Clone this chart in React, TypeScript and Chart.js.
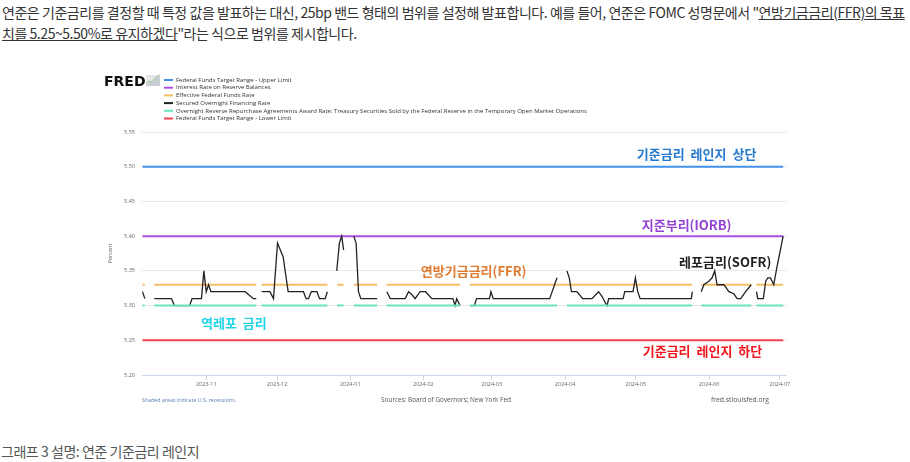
import React, { useEffect, useRef } from 'react';
import { Chart, registerables } from 'chart.js';

Chart.register(...registerables);

// ---------------- data ----------------
// x values are days counted from 2023-10-01 (day 0)
const monthTickDays = [31, 61, 92, 123, 152, 183, 213, 244, 274];
const monthTickLabels = ['2023-11', '2023-12', '2024-01', '2024-02', '2024-03', '2024-04', '2024-05', '2024-06', '2024-07'];

const xMinDay = 3.8;
const xMaxDay = 276.6;
const yMin = 5.2;
const yMax = 5.55;
const yStep = 0.05;

const rangeDays = [4, 275.4];
const upperLimitValues = [5.5, 5.5];
const iorbValues = [5.4, 5.4];
const lowerLimitValues = [5.25, 5.25];

const ffrRate = 5.33;
const ffrStartDays = [4, 9, 54.5, 86.5, 93.6, 107.5, 142.7, 240.7, 264.1];
const ffrEndDays = [5, 52.2, 82.3, 89.2, 103.4, 138.5, 236.9, 261.9, 275.4];

const rrpRate = 5.3;
const rrpStartDays = [4, 9, 54.5, 86.5, 93.6, 107.5, 142.7, 183.8, 240.7, 264.1];
const rrpEndDays = [5, 52.2, 82.3, 89.2, 103.4, 138.5, 179.6, 236.9, 261.9, 275.4];

const sofrDays = [
  4, 5, 7,
  9, 16.3, 17.5, 24, 25, 29, 30, 31, 32, 33, 47.5, 51, 52.2, 53.5,
  54.5, 58, 59.5, 61.2, 63.6, 65.7, 72.2, 73.3, 74.3, 75.5, 77.9, 79, 81.4, 82.3, 84,
  86.3, 87.4, 88.4, 89.2, 91,
  93.5, 94.5, 95.5, 96.5, 103.4, 105,
  107.5, 109, 115.3, 116.7, 117.8, 119.5, 121.6, 123.9, 126.6, 135.5, 136.4, 137.1, 138.5, 140,
  142.7, 144.6, 145.5, 151, 151.6, 152.6, 176.5, 179.6, 181.5,
  183.8, 184.8, 185.7, 188, 190.5, 194.4, 197.2, 198.7, 200.2, 200.8, 201.5, 207.6, 208.3, 211.8, 212.8, 213.8, 214.8, 236.5, 236.9, 239,
  240.7, 241.8, 243.9, 245.3, 246.4, 247.4, 250.3, 252.4, 254.5, 255.9, 257.4, 259.5, 261.9, 263,
  264.1, 264.6, 267, 268, 268.9, 270, 270.7, 271.4, 272.8, 275.4,
];
const sofrValues = [
  5.32, 5.31, null,
  5.31, 5.31, 5.30, 5.30, 5.31, 5.31, 5.35, 5.32, 5.33, 5.32, 5.32, 5.31, 5.31, null,
  5.32, 5.32, 5.31, 5.39, 5.37, 5.32, 5.32, 5.31, 5.31, 5.32, 5.32, 5.31, 5.31, 5.32, null,
  5.35, 5.39, 5.40, 5.38, null,
  5.40, 5.39, 5.32, 5.31, 5.31, null,
  5.32, 5.31, 5.31, 5.32, 5.317, 5.31, 5.32, 5.32, 5.31, 5.31, 5.30, 5.31, 5.30, null,
  5.30, 5.30, 5.31, 5.31, 5.32, 5.31, 5.31, 5.34, null,
  5.35, 5.34, 5.32, 5.32, 5.31, 5.31, 5.32, 5.313, 5.303, 5.30, 5.31, 5.31, 5.32, 5.32, 5.34, 5.32, 5.31, 5.31, 5.32, null,
  5.32, 5.33, 5.335, 5.34, 5.35, 5.33, 5.33, 5.32, 5.317, 5.31, 5.31, 5.32, 5.33, null,
  5.32, 5.31, 5.31, 5.335, 5.34, 5.34, 5.335, 5.33, 5.356, 5.40,
];

const legendLabels = [
  'Federal Funds Target Range - Upper Limit',
  'Interest Rate on Reserve Balances',
  'Effective Federal Funds Rate',
  'Secured Overnight Financing Rate',
  'Overnight Reverse Repurchase Agreements Award Rate: Treasury Securities Sold by the Federal Reserve in the Temporary Open Market Operations',
  'Federal Funds Target Range - Lower Limit',
];
const seriesColors = ['#4390e8', '#ae4fe4', '#f5bd66', '#222222', '#69e2bf', '#f4434f'];

const annotationTexts = ['기준금리 레인지 상단', '지준부리(IORB)', '레포금리(SOFR)', '연방기금금리(FFR)', '역레포 금리', '기준금리 레인지 하단'];
const annotationDays = [213.4, 215.5, 231.3, 121.9, 28.8, 215.9];
const annotationValues = [5.518, 5.416, 5.363, 5.349, 5.275, 5.234];
const annotationColors = ['#2479cf', '#9442d1', '#1e1e1e', '#e07b2f', '#1fd3e8', '#f3151b'];

const footerLeft = 'Shaded areas indicate U.S. recessions.';
const footerMid = 'Sources: Board of Governors; New York Fed';
const footerRight = 'fred.stlouisfed.org';

// ---------------- helpers ----------------
const toPoints = (days: number[], vals: (number | null)[]) => days.map((d, i) => ({ x: d, y: vals[i] }));
const segmentPoints = (starts: number[], ends: number[], rate: number) => {
  const out: { x: number; y: number | null }[] = [];
  starts.forEach((s, i) => {
    if (i > 0) out.push({ x: (ends[i - 1] + s) / 2, y: null });
    out.push({ x: s, y: rate }, { x: ends[i], y: rate });
  });
  return out;
};

const decorPlugin = {
  id: 'fredDecor',
  afterDatasetsDraw(chart: any) {
    const { ctx, scales } = chart;
    ctx.save();
    ctx.textBaseline = 'middle';
    ctx.textAlign = 'left';
    ctx.font = 'bold 13px "Noto Sans CJK KR"';
    (ctx as any).wordSpacing = '3px';
    annotationTexts.forEach((t, i) => {
      ctx.fillStyle = annotationColors[i];
      ctx.fillText(t, scales.x.getPixelForValue(annotationDays[i]), scales.y.getPixelForValue(annotationValues[i]));
    });
    (ctx as any).wordSpacing = '0px';
    ctx.restore();
  },
  afterDraw(chart: any) {
    const { ctx, chartArea } = chart;
    ctx.save();
    // logo
    ctx.fillStyle = '#111';
    ctx.font = 'bold 14px "DejaVu Sans"';
    ctx.textBaseline = 'alphabetic';
    ctx.textAlign = 'left';
    ctx.fillText('FRED', 4, 26);
    // logo icon
    ctx.fillStyle = '#e4e8eb';
    ctx.fillRect(46, 15, 14, 11);
    ctx.fillStyle = '#c7ced5';
    ctx.beginPath();
    ctx.moveTo(46, 26); ctx.lineTo(49, 22); ctx.lineTo(52, 23); ctx.lineTo(56, 18); ctx.lineTo(60, 16); ctx.lineTo(60, 26); ctx.closePath();
    ctx.fill();
    ctx.strokeStyle = '#9cc28a';
    ctx.lineWidth = 1;
    ctx.beginPath();
    ctx.moveTo(46, 24); ctx.lineTo(49, 21); ctx.lineTo(52, 22); ctx.lineTo(56, 17); ctx.lineTo(60, 15);
    ctx.stroke();
    // legend
    ctx.font = '6px "Open Sans"';
    ctx.textBaseline = 'middle';
    legendLabels.forEach((l, i) => {
      const yy = 20 + i * 7.7;
      ctx.strokeStyle = seriesColors[i];
      ctx.lineWidth = 2;
      ctx.beginPath();
      ctx.moveTo(64, yy);
      ctx.lineTo(73, yy);
      ctx.stroke();
      ctx.fillStyle = '#333';
      ctx.fillText(l, 76, yy);
    });
    // footer
    const fy = 340.5;
    ctx.font = '5.3px "Open Sans"';
    ctx.fillStyle = '#5a7db5';
    ctx.textAlign = 'left';
    ctx.fillText(footerLeft, chartArea.left, fy);
    ctx.font = '6.4px "Open Sans"';
    ctx.fillStyle = '#555';
    ctx.textAlign = 'center';
    ctx.fillText(footerMid, 346, fy);
    ctx.font = '6.8px "Open Sans"';
    ctx.textAlign = 'right';
    ctx.fillText(footerRight, 669, fy);
    ctx.restore();
  },
};

function FredChart() {
  const ref = useRef<HTMLCanvasElement | null>(null);
  useEffect(() => {
    if (!ref.current) return;
    const tickFont = { family: '"Open Sans"', size: 5.5 };
    const base = { pointRadius: 0, pointHoverRadius: 0, fill: false, tension: 0, spanGaps: false };
    const chart = new Chart(ref.current, {
      type: 'line',
      data: {
        datasets: [
          { ...base, label: legendLabels[0], data: toPoints(rangeDays, upperLimitValues), borderColor: seriesColors[0], borderWidth: 2, order: 6 },
          { ...base, label: legendLabels[1], data: toPoints(rangeDays, iorbValues), borderColor: seriesColors[1], borderWidth: 2, order: 5 },
          { ...base, label: legendLabels[2], data: segmentPoints(ffrStartDays, ffrEndDays, ffrRate), borderColor: seriesColors[2], borderWidth: 2, order: 4 },
          { ...base, label: legendLabels[3], data: toPoints(sofrDays, sofrValues), borderColor: seriesColors[3], borderWidth: 1.3, order: 3 },
          { ...base, label: legendLabels[4], data: segmentPoints(rrpStartDays, rrpEndDays, rrpRate), borderColor: seriesColors[4], borderWidth: 2, order: 2 },
          { ...base, label: legendLabels[5], data: toPoints(rangeDays, lowerLimitValues), borderColor: seriesColors[5], borderWidth: 2, order: 1 },
        ] as any,
      },
      options: {
        animation: false,
        responsive: false,
        maintainAspectRatio: false,
        devicePixelRatio: 1,
        events: [],
        layout: { padding: { top: 72, right: 14, bottom: 0, left: 0 } },
        plugins: { legend: { display: false }, tooltip: { enabled: false }, title: { display: false } },
        scales: {
          x: {
            type: 'linear',
            min: xMinDay,
            max: xMaxDay,
            afterBuildTicks: (s: any) => { s.ticks = monthTickDays.map((v) => ({ value: v })); },
            afterFit: (s: any) => { s.height = 40; },
            ticks: {
              autoSkip: false,
              maxRotation: 0,
              minRotation: 0,
              padding: 1,
              font: tickFont,
              color: '#666',
              callback: (v: any) => monthTickLabels[monthTickDays.indexOf(Number(v))] ?? '',
            },
            grid: { drawOnChartArea: false, drawTicks: true, tickLength: 5, color: '#ccd6eb' },
            border: { display: true, color: '#ccd6eb', width: 1 },
          },
          y: {
            type: 'linear',
            min: yMin,
            max: yMax,
            afterFit: (s: any) => { s.width = 42; },
            ticks: {
              stepSize: yStep,
              padding: 7,
              font: tickFont,
              color: '#666',
              callback: (v: any) => Number(v).toFixed(2),
            },
            grid: { color: '#e8e8e8', lineWidth: 1, drawTicks: false },
            border: { display: false },
            title: { display: true, text: 'Percent', font: tickFont, color: '#666', padding: { top: 7.4, bottom: 0 } },
          },
        },
      } as any,
      plugins: [decorPlugin],
    });
    return () => chart.destroy();
  }, []);
  return (
    <canvas
      ref={ref}
      width={700}
      height={355}
      style={{ position: 'absolute', left: 100, top: 60, width: 700, height: 355 }}
    />
  );
}

export default function App() {
  const textStyle: React.CSSProperties = {
    position: 'absolute',
    left: 2,
    whiteSpace: 'nowrap',
    fontFamily: '"Noto Sans CJK KR", sans-serif',
    fontSize: 14,
    lineHeight: '21px',
    color: '#333',
    letterSpacing: '-0.45px',
  };
  const link: React.CSSProperties = { textDecoration: 'underline', color: '#333' };
  return (
    <div style={{ position: 'absolute', left: 0, top: 0, width: 910, height: 462, background: '#fff', overflow: 'hidden' }}>
      <div style={{ ...textStyle, top: 2 }}>
        연준은 기준금리를 결정할 때 특정 값을 발표하는 대신, 25bp 밴드 형태의 범위를 설정해 발표합니다. 예를 들어, 연준은 FOMC 성명문에서 "<span style={link}>연방기금금리(FFR)의 목표</span>
      </div>
      <div style={{ ...textStyle, top: 23 }}>
        <span style={link}>치를 5.25~5.50%로 유지하겠다</span>"라는 식으로 범위를 제시합니다.
      </div>
      <FredChart />
      <div style={{ ...textStyle, left: 1, top: 441, color: '#555' }}>그래프 3 설명: 연준 기준금리 레인지</div>
    </div>
  );
}
